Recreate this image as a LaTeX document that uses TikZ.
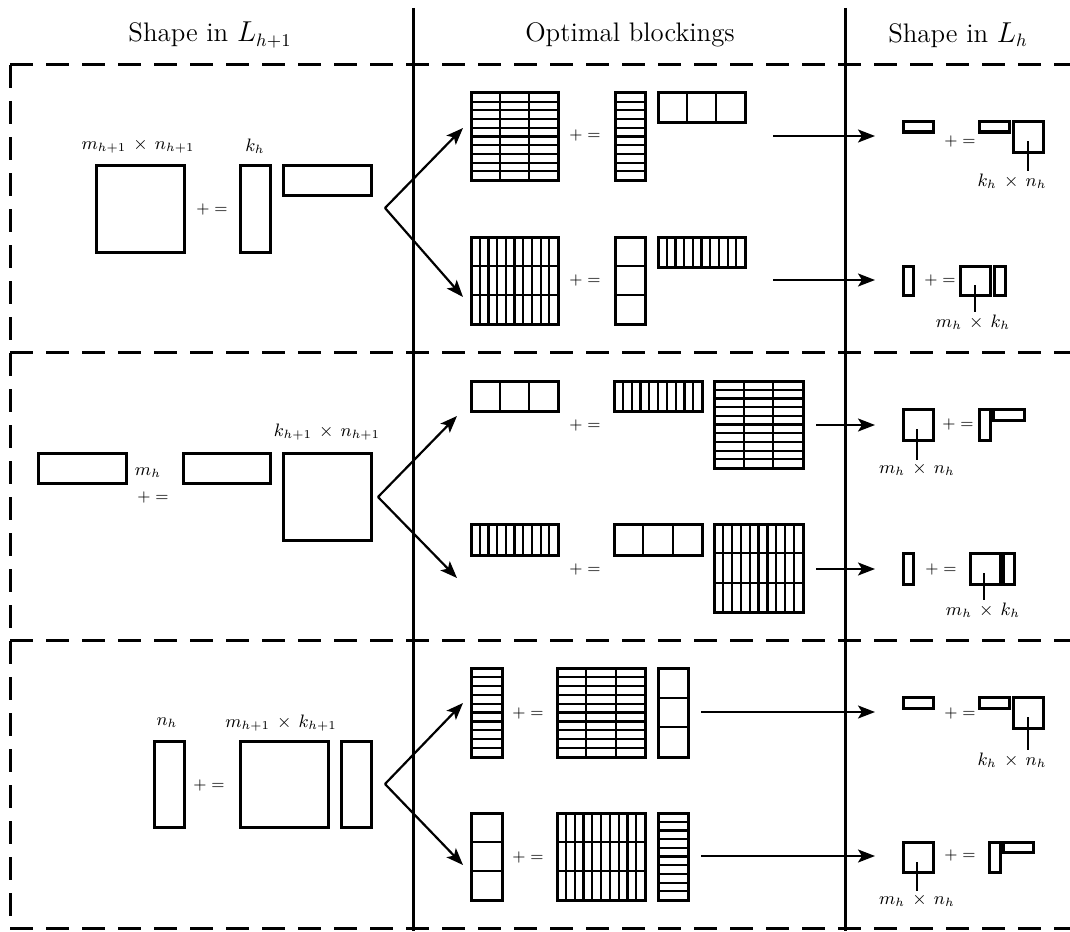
\documentclass[tikz,border=0pt]{standalone}
\usetikzlibrary{arrows.meta}
\newcommand{\blockgrid}[6]{%
  \foreach \i in {1,...,#5} \draw[sep] ({#1+(#3-#1)*\i/#5},#2) -- ({#1+(#3-#1)*\i/#5},#4);
  \foreach \j in {1,...,#6} \draw[sep] (#1,{#2+(#4-#2)*\j/#6}) -- (#3,{#2+(#4-#2)*\j/#6});
  \draw[blk] (#1,#2) rectangle (#3,#4);}
\begin{document}
\begin{tikzpicture}[x=0.5pt,y=-0.5pt,
  blk/.style={line width=1.5pt},
  sep/.style={line width=1.1pt},
  rule/.style={line width=1.5pt},
  cut/.style={line width=1.5pt,dash pattern=on 11.5pt off 6.5pt},
  go/.style={line width=1.1pt,-{Stealth[length=8.5pt,width=6.5pt,inset=2pt]}},
  ptr/.style={line width=1.3pt},
  lbl/.style={font=\fontsize{9}{10}\selectfont,inner sep=1pt},
  pe/.style={font=\fontsize{8.5}{9}\selectfont,inner sep=1pt},
  hd/.style={font=\fontsize{13.4}{16}\selectfont}]
\useasboundingbox (0,0) rectangle (1070,931);
% headers and section rules
\node[hd] (h1) at (210,35) {Shape in $L_{h+1}$};
\node[hd] (h2) at (630,35) {Optimal blockings};
\node[hd] (h3) at (958,35) {Shape in $L_h$};
\draw[rule] (413,8) -- (413,931);
\draw[rule] (845,8) -- (845,931);
\foreach \y in {65,352,640,928}
  \draw[cut] (10,\y) -- (1070,\y);
\draw[cut] (10,65) -- (10,928);

% first row: C = A B, left side
\node[lbl] (d1l) at (138,146) {$m_{h+1}\,\times\,n_{h+1}$};
\node[lbl] (d1k) at (255,146) {$k_h$};
\blockgrid{96}{165}{184}{252}{1}{1}
\node[pe] (q1) at (212,209) {$+=$};
\blockgrid{240}{165}{270}{252}{1}{1}
\blockgrid{283}{165}{371}{195}{1}{1}
\coordinate (v1) at (385,208);
\coordinate (v1a) at (463,128);
\coordinate (v1b) at (463,297);
\draw[go] (v1) -- (v1a);
\draw[go] (v1) -- (v1b);
% blockings
\blockgrid{471}{93}{558}{180}{3}{10}
\node[pe] (q1a) at (585,136) {$+=$};
\blockgrid{615}{93}{645}{180}{1}{10}
\blockgrid{658}{93}{745}{123}{3}{1}
\blockgrid{471}{237}{558}{324}{10}{3}
\node[pe] (q1b) at (585,280) {$+=$};
\blockgrid{615}{237}{645}{324}{1}{3}
\blockgrid{658}{237}{745}{267}{10}{1}
\coordinate (s1a) at (773,136);
\coordinate (e1a) at (875,136);
\coordinate (s1b) at (773,280);
\coordinate (e1b) at (875,280);
\draw[go] (s1a) -- (e1a);
\draw[go] (s1b) -- (e1b);
% right side
\blockgrid{903}{122}{933}{132}{1}{1}
\node[pe] (r1a) at (960,142) {$+=$};
\blockgrid{979}{122}{1009}{132}{1}{1}
\blockgrid{1013}{122}{1043}{152}{1}{1}
\node[lbl] (t1a) at (1012,181) {$k_h\,\times\,n_h$};
\coordinate (p1a) at (1028,141);
\draw[ptr] (p1a) -- (p1a |- t1a.north);
\blockgrid{903}{266}{913}{295}{1}{1}
\node[pe] (r1b) at (940,280) {$+=$};
\blockgrid{960}{266}{990}{295}{1}{1}
\blockgrid{994}{266}{1005}{295}{1}{1}
\node[lbl] (t1b) at (973,322) {$m_h\,\times\,k_h$};
\coordinate (p1b) at (975,285);
\draw[ptr] (p1b) -- (p1b |- t1b.north);

% second row: C = A B, left side
\blockgrid{38}{453}{126}{483}{1}{1}
\node[lbl] (d2m) at (148,473) {$m_h$};
\node[pe] (q2) at (153,497) {$+=$};
\blockgrid{183}{453}{270}{483}{1}{1}
\node[lbl] (d2l) at (327,432) {$k_{h+1}\,\times\,n_{h+1}$};
\blockgrid{283}{453}{371}{540}{1}{1}
\coordinate (v2) at (378,497);
\coordinate (v2a) at (457,416);
\coordinate (v2b) at (457,578);
\draw[go] (v2) -- (v2a);
\draw[go] (v2) -- (v2b);
% blockings
\blockgrid{471}{381}{558}{411}{3}{1}
\node[pe] (q2a) at (585,425) {$+=$};
\blockgrid{614}{381}{702}{411}{10}{1}
\blockgrid{714}{381}{803}{468}{3}{10}
\blockgrid{471}{524}{558}{555}{10}{1}
\node[pe] (q2b) at (585,569) {$+=$};
\blockgrid{614}{524}{702}{555}{3}{1}
\blockgrid{714}{524}{803}{612}{10}{3}
\coordinate (s2a) at (816,425);
\coordinate (e2a) at (875,425);
\coordinate (s2b) at (816,569);
\coordinate (e2b) at (875,569);
\draw[go] (s2a) -- (e2a);
\draw[go] (s2b) -- (e2b);
% right side
\blockgrid{903}{409}{933}{440}{1}{1}
\node[lbl] (t2a) at (917,469) {$m_h\,\times\,n_h$};
\coordinate (p2a) at (917,429);
\draw[ptr] (p2a) -- (p2a |- t2a.north);
\node[pe] (r2a) at (958,424) {$+=$};
\blockgrid{979}{409}{990}{440}{1}{1}
\blockgrid{993}{409}{1024}{420}{1}{1}
\blockgrid{903}{553}{913}{584}{1}{1}
\node[pe] (r2b) at (941,569) {$+=$};
\blockgrid{970}{553}{1000}{584}{1}{1}
\blockgrid{1003}{553}{1014}{584}{1}{1}
\node[lbl] (t2b) at (983,610) {$m_h\,\times\,k_h$};
\coordinate (p2b) at (984,573);
\draw[ptr] (p2b) -- (p2b |- t2b.north);

% third row: C = A B, left side
\node[lbl] (d3n) at (167,723) {$n_h$};
\node[lbl] (d3l) at (281,723) {$m_{h+1}\,\times\,k_{h+1}$};
\blockgrid{154}{741}{184}{827}{1}{1}
\node[pe] (q3) at (209,785) {$+=$};
\blockgrid{240}{741}{328}{827}{1}{1}
\blockgrid{341}{741}{371}{827}{1}{1}
\coordinate (v3) at (385,784);
\coordinate (v3a) at (463,703);
\coordinate (v3b) at (463,865);
\draw[go] (v3) -- (v3a);
\draw[go] (v3) -- (v3b);
% blockings
\blockgrid{471}{668}{502}{757}{1}{10}
\node[pe] (q3a) at (528,713) {$+=$};
\blockgrid{557}{668}{645}{757}{3}{10}
\blockgrid{658}{668}{688}{757}{1}{3}
\blockgrid{471}{813}{502}{900}{1}{3}
\node[pe] (q3b) at (528,857) {$+=$};
\blockgrid{557}{813}{645}{900}{10}{3}
\blockgrid{658}{813}{688}{900}{1}{10}
\coordinate (s3a) at (701,712);
\coordinate (e3a) at (875,712);
\coordinate (s3b) at (701,856);
\coordinate (e3b) at (875,856);
\draw[go] (s3a) -- (e3a);
\draw[go] (s3b) -- (e3b);
% right side
\blockgrid{903}{697}{933}{708}{1}{1}
\node[pe] (r3a) at (960,713) {$+=$};
\blockgrid{979}{697}{1009}{708}{1}{1}
\blockgrid{1013}{697}{1043}{728}{1}{1}
\node[lbl] (t3a) at (1012,760) {$k_h\,\times\,n_h$};
\coordinate (p3a) at (1028,717);
\draw[ptr] (p3a) -- (p3a |- t3a.north);
\blockgrid{903}{842}{933}{872}{1}{1}
\node[lbl] (t3b) at (917,900) {$m_h\,\times\,n_h$};
\coordinate (p3b) at (917,862);
\draw[ptr] (p3b) -- (p3b |- t3b.north);
\node[pe] (r3b) at (960,855) {$+=$};
\blockgrid{989}{842}{1000}{872}{1}{1}
\blockgrid{1003}{842}{1033}{852}{1}{1}
\end{tikzpicture}
\end{document}
